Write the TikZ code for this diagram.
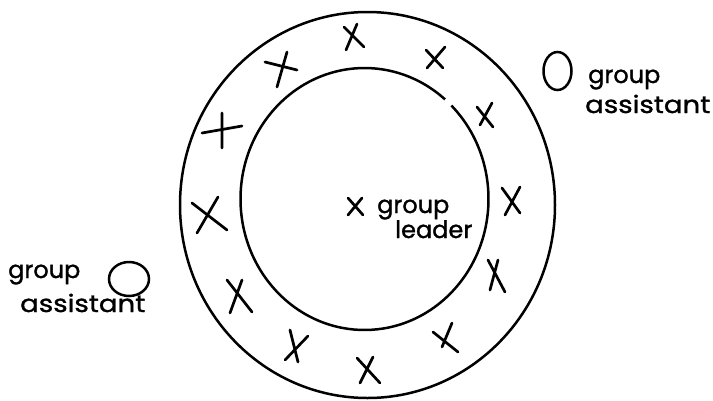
\documentclass[tikz,border=0pt]{standalone}
\usepackage{fontspec}
\setmainfont{Poppins}
\newfontfamily\handfont{Poppins}[FakeBold=1.3]
\newfontfamily\handwide{Poppins}[FakeBold=1.3,FakeStretch=1.15]
\begin{document}
\begin{tikzpicture}[x=1pt,y=-1pt,
  ring/.style={line width=2.5pt},
  mk/.style={line width=2.7pt,line cap=round},
  hand/.style={font=\handfont\fontsize{24}{26}\selectfont, inner sep=0pt, anchor=base west},
  handw/.style={font=\handwide\fontsize{24}{26}\selectfont, inner sep=0pt, anchor=base west}]
\useasboundingbox[fill=white] (0,0) rectangle (713,400);
% rings
\coordinate (oc) at (367.5,205);
\coordinate (ic) at (364.5,199);
\draw[ring] (oc) ellipse [x radius=187.5, y radius=193];
\draw[ring] (ic) ++(-45.5:124 and 131) arc[start angle=-45.5, end angle=310.5, x radius=124, y radius=131];
% members (X marks)
\draw[mk] (344,27)--(364,47) (357,24)--(346,50);
\draw[mk] (426,50)--(443,68) (445,47)--(427,68);
\draw[mk] (265,62)--(297,70) (287,52)--(277,87);
\draw[mk] (202,133)--(242,126) (222,113)--(222,148);
\draw[mk] (477,107)--(493,127) (492,103)--(480,125);
\draw[mk] (502,188)--(520,213) (520,187)--(505,215);
\draw[mk] (192,203)--(227,230) (218,197)--(197,233);
\draw[mk] (488,260)--(505,292) (498,260)--(490,290);
\draw[mk] (227,280)--(252,312) (242,280)--(230,313);
\draw[mk] (433,332)--(458,352) (452,323)--(442,347);
\draw[mk] (290,330)--(298,362) (308,336)--(285,360);
\draw[mk] (357,358)--(380,383) (373,357)--(360,383);
% leader
\draw[mk] (348,198)--(363,215) (362,198)--(348,215);
\node[hand] (lg) at (377,213) {group};
\node[hand] (ll) at (395,238) {leader};
% assistants
\draw[ring] (129,279) ellipse [x radius=20, y radius=17];
\node[hand] (lag) at (8,278) {group};
\node[handw] (laa) at (20,312) {assistant};
\draw[ring] (557.5,71) ellipse [x radius=14, y radius=19];
\node[hand] (rag) at (588,83) {group};
\node[handw] (raa) at (585,113) {assistant};
\end{tikzpicture}
\end{document}
